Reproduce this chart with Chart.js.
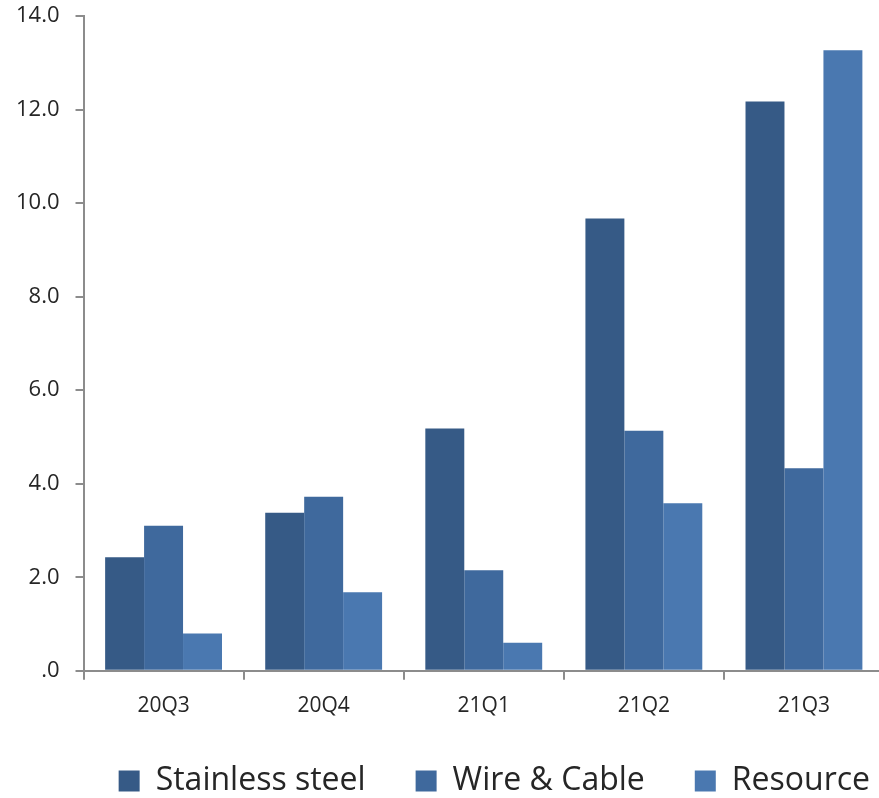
<!DOCTYPE html>
<html>
<head>
<meta charset="utf-8">
<script src="https://cdn.jsdelivr.net/npm/chart.js@4/dist/chart.umd.min.js"></script>
<style>
  html, body { margin: 0; padding: 0; background: #fff; overflow: hidden; }
  #wrap { width: 884px; height: 810px; }
</style>
</head>
<body>
<div id="wrap"><canvas id="chart" width="884" height="810"></canvas></div>
<script>
// Data
const quarters = ['20Q3', '20Q4', '21Q1', '21Q2', '21Q3'];
const stainlessSteel = [2.43, 3.38, 5.18, 9.67, 12.17];
const wireCable = [3.10, 3.72, 2.15, 5.13, 4.33];
const resource = [0.80, 1.68, 0.60, 3.58, 13.27];
const yTicks = [0, 2, 4, 6, 8, 10, 12, 14];

const axisGrey = '#8c8c8c';
const textColor = '#262626';
const legendShiftX = 36;
const legendShiftY = -18;
const legendTrim = 15;

// the legend needs wide gaps between items but little height,
// and sits further right than chart.js puts it
const legendTweak = {
    id: 'legendTweak',
    beforeLayout(chart) {
        const lg = chart.legend;
        if (lg && !lg._trimmed) {
            const fit = lg.fit;
            lg.fit = function () {
                fit.call(this);
                this.height -= legendTrim;
            };
            lg._trimmed = true;
        }
    },
    afterLayout(chart) {
        const lg = chart.legend;
        lg.left += legendShiftX;
        lg.right += legendShiftX;
        lg.top += legendShiftY;
        lg.bottom += legendShiftY;
    }
};

const ctx = document.getElementById('chart').getContext('2d');

new Chart(ctx, {
    type: 'bar',
    data: {
        labels: quarters,
        datasets: [
            { label: 'Stainless steel', data: stainlessSteel, backgroundColor: '#365a86' },
            { label: 'Wire & Cable', data: wireCable, backgroundColor: '#3f699d' },
            { label: 'Resource', data: resource, backgroundColor: '#4a78b0' }
        ]
    },
    plugins: [legendTweak],
    options: {
        responsive: false,
        devicePixelRatio: 1,
        animation: false,
        layout: { padding: { top: 16, left: 0, right: 0, bottom: 0 } },
        datasets: {
            bar: { barPercentage: 1.0, categoryPercentage: 0.73, borderWidth: 0 }
        },
        plugins: {
            legend: {
                position: 'bottom',
                align: 'end',
                labels: {
                    color: textColor,
                    font: { family: 'Open Sans', size: 32 },
                    boxWidth: 21,
                    boxHeight: 21,
                    padding: 50
                }
            },
            tooltip: { enabled: false }
        },
        scales: {
            x: {
                grid: {
                    display: true,
                    drawOnChartArea: false,
                    offset: true,
                    color: axisGrey,
                    tickLength: 9,
                    lineWidth: 2
                },
                border: { color: axisGrey, width: 2 },
                ticks: {
                    color: textColor,
                    font: { family: 'Open Sans', size: 21 },
                    padding: 14
                }
            },
            y: {
                min: 0,
                max: 14,
                afterBuildTicks: axis => { axis.ticks = yTicks.map(v => ({ value: v })); },
                afterFit: axis => { axis.paddingTop = 0; },
                grid: {
                    display: true,
                    drawOnChartArea: false,
                    color: axisGrey,
                    tickLength: 8,
                    lineWidth: 2
                },
                border: { color: axisGrey, width: 2 },
                ticks: {
                    color: textColor,
                    font: { family: 'Open Sans', size: 22 },
                    padding: 16,
                    callback: v => v === 0 ? '.0' : v.toFixed(1)
                }
            }
        }
    }
});
</script>
</body>
</html>
